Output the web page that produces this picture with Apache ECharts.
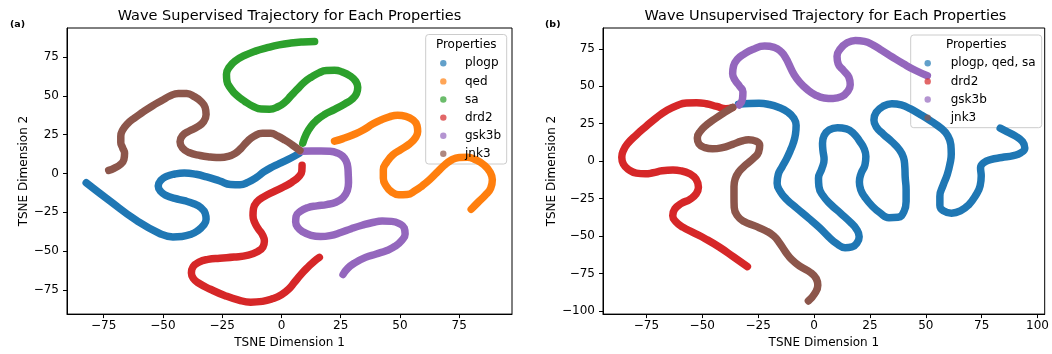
<!DOCTYPE html>
<html>
<head>
<meta charset="utf-8">
<title>Wave Trajectory</title>
<script src="https://cdn.jsdelivr.net/npm/echarts@6/dist/echarts.min.js"></script>
<style>
  html, body { margin: 0; padding: 0; background: #fff; }
  #main { width: 1052px; height: 354px; }
</style>
</head>
<body>
<div id="main"></div>
<script>
// panel (a): supervised trajectories
var namesA = ['plogp', 'qed', 'sa', 'drd2', 'gsk3b', 'jnk3'];
var supPlogp = [[-82.4,-5.9],[-72.5,-17.5],[-61.2,-30.2],[-51.4,-38.6],[-45.8,-40.8],[-42,-40.5],[-38.5,-39.3],[-35.5,-37],[-33,-33.5],[-31.8,-29.5],[-32.2,-25.5],[-34,-22],[-37,-19.5],[-41,-17.5],[-45,-16],[-48.5,-14.2],[-51,-11.5],[-52,-8],[-51,-4.5],[-48.5,-1.8],[-45,-0.3],[-41,0.3],[-36,-0.5],[-31.5,-2.2],[-26,-4.8],[-21.5,-7],[-17.5,-7.2],[-14,-5.5],[-10.5,-2.5],[-7.5,1],[-3.5,4.5],[0,7],[4,10],[7.5,13]];
var supQed = [[22.4,20.8],[26,22.5],[30.3,25],[34.5,28],[38.7,32],[42,34.5],[45.5,36.5],[49,37.5],[52.5,36.8],[55.5,34.5],[57.2,31],[57.5,27],[56.5,23],[54,19],[50.5,15.5],[47,12],[44.5,7.5],[43,2.5],[43,-3],[44.2,-8],[46.5,-11.8],[49.5,-13.7],[53,-13.5],[56.5,-11],[59.5,-7.8],[62.5,-4],[65.5,0.5],[68.5,5],[71.5,8.5],[75,10.4],[78.5,10.5],[82,8.8],[85.5,5.5],[88,1],[89,-4],[88.3,-9.5],[86,-14],[83,-18.5],[80.1,-23]];
var supSa = [[9,19.5],[10.5,25.5],[12.5,30.5],[15,34.5],[18,37.8],[22.5,41.3],[26.7,44.8],[29.8,47.8],[31.7,51.5],[32.2,55.5],[31.3,59.5],[29,62.8],[25.8,65.3],[22.4,66.5],[19,66.3],[15.8,64.8],[12.5,62],[9.6,58.8],[6.5,54],[4,50],[1.5,46],[-1.5,43],[-5,41.4],[-8.5,41.5],[-12,43.3],[-15.5,46.5],[-19,50.5],[-21.5,55],[-23,59.5],[-23.2,64],[-22,68.5],[-19.5,72.5],[-15.5,76],[-11,78.8],[-6,81],[-1,82.8],[4,84],[9,84.7],[14,85]];
var supDrd2 = [[8.7,5.3],[8.6,1.5],[7.3,-2],[4.5,-5.5],[1,-8.5],[-3,-11.5],[-7.5,-15],[-10.5,-18.5],[-11.8,-22.5],[-12,-27],[-11.3,-31.5],[-9.8,-35.5],[-8,-39.5],[-7.2,-43.5],[-7.8,-47.3],[-10.2,-50.3],[-14,-52.5],[-20,-53.8],[-26,-54.5],[-31,-55.3],[-34.8,-57],[-37.3,-60],[-38,-64],[-37.2,-67.5],[-35,-70.5],[-30,-74.5],[-24,-78.5],[-18,-81.5],[-13,-82.8],[-8,-82.3],[-3.5,-80.5],[0,-78],[3,-74.5],[5.5,-70],[8.5,-64.5],[11.5,-59.8],[13.8,-56.5],[16,-54]];
var supGsk3b = [[8.2,14.3],[12.5,14.5],[16.7,14.5],[20.5,14.3],[23.5,13.3],[25.8,11.2],[27.3,8],[28,4],[28.2,-1],[28.3,-6],[27.8,-11],[26,-15.5],[23,-18.5],[19,-20],[15,-20.8],[11,-22],[8,-24.3],[6.2,-27.5],[6,-31],[6.8,-34.5],[9,-37.5],[12.5,-39.8],[16.5,-40.6],[20.5,-40],[25,-38],[29.5,-35.5],[34,-33.3],[38.5,-31.5],[42.5,-30.6],[46.5,-30.8],[49.8,-32.3],[51.8,-35],[52.2,-39],[50.8,-43],[48,-46.8],[44.5,-49.5],[40,-51.8],[35.5,-54],[31,-57.5],[28,-61],[26,-65]];
var supJnk3 = [[-72.9,2],[-70.5,3.5],[-68,5.8],[-66.5,9],[-66.2,13],[-67,16.5],[-67.8,20],[-67.8,24],[-67,28],[-65,32],[-62,35.8],[-58.5,39.5],[-54.5,43.5],[-50.5,47],[-47,50],[-43.5,51.6],[-40,51.5],[-36.8,49.5],[-34,46.5],[-32.2,42.5],[-31.8,38],[-32.8,33.5],[-35.5,30],[-39,27.3],[-41.8,24.3],[-42.8,20.5],[-41.8,16.5],[-39,13.5],[-34.3,11.6],[-30,10.7],[-25.8,10.3],[-22.5,11],[-19.5,13],[-17,16.3],[-14.5,20.5],[-11.6,24],[-8,26],[-4.5,26],[-1.7,24.2],[1.5,21.5],[4.5,18.5],[7.8,14.8]];

// panel (b): unsupervised trajectories
var namesB = ['plogp, qed, sa', 'drd2', 'gsk3b', 'jnk3'];
var unsupMix = [[-33.8,38],[-29,38.5],[-24.6,38.6],[-20,37.8],[-15.7,35.8],[-11.8,32.8],[-9.1,28.8],[-8,24],[-8.3,17.9],[-9.3,12],[-10.6,7],[-12.3,1.5],[-14.3,-3.9],[-16,-9],[-16.5,-14.8],[-15,-20.5],[-12.3,-25.5],[-7.7,-31.5],[-2.5,-38],[2.5,-44.5],[6.5,-50.5],[10,-55],[13.9,-57.8],[17,-57.3],[19.3,-54.5],[20.2,-50.5],[19,-45.5],[16,-40.5],[12,-35],[7.5,-29],[4,-23],[2.2,-17],[2,-11.5],[3.5,-5],[4.5,1],[4,7],[3.8,12],[4.5,17],[6.7,20.8],[10.5,22.3],[14.5,21.5],[17.7,18.5],[20.3,13.5],[22.5,8],[23.2,3],[22.8,-2.5],[21,-8.5],[20.3,-14],[21,-19.5],[22.7,-24],[26,-30],[29.5,-34.5],[33.5,-37.8],[37.5,-37.5],[40.3,-33.5],[41.2,-27],[41.2,-19],[40.8,-11],[40.6,-3.5],[40,2.5],[38,8],[34.8,13],[31,18],[28,22.5],[26.8,27.5],[27.8,32.5],[30.8,36.5],[34.8,38.3],[39,37.5],[43,35],[47.7,31],[52.5,26.5],[56.8,22],[59.8,17],[61.2,11],[61.4,4.8],[60.8,-2],[59.6,-9],[57.8,-16],[56.3,-23.6],[56.3,-29.5],[58,-33.3],[61.5,-34.8],[65.5,-33.3],[69.3,-29],[72.3,-23],[74.3,-16.5],[74.8,-10],[74.5,-4.5],[76,-1],[79,1],[84,2.4],[89.2,3.7],[92.5,5.5],[94.3,8.7],[93.3,13],[90,16.8],[86.5,19.5],[83.3,22]];
var unsupDrd2 = [[-29.8,-70.5],[-36,-64],[-42.4,-57.4],[-48.5,-52],[-54.2,-47.6],[-58.5,-44.3],[-61.8,-40.5],[-63.2,-36.5],[-62.3,-32],[-59.3,-28.3],[-55.5,-25.5],[-52.8,-22],[-51.7,-17.5],[-52.8,-12],[-55.6,-8.5],[-59.5,-6.5],[-63.1,-6],[-68,-6.5],[-72,-7.8],[-75.5,-8.5],[-79.5,-8],[-82.8,-5.8],[-85.3,-2],[-86,2.6],[-85.3,7],[-83.5,11.5],[-79.5,17.5],[-74.9,23.5],[-70.5,29],[-65.9,33.8],[-61.5,37],[-57.1,38.8],[-52.5,39],[-48.2,38.3],[-43.5,36.5],[-39.4,35],[-36.4,35.8]];
var unsupGsk3b = [[-33.5,37.5],[-32,41.5],[-31.8,46.3],[-33.3,50],[-35.3,54],[-36.4,58.5],[-36,63.5],[-34.3,68],[-31.3,71.5],[-27.5,74.5],[-22.1,76.8],[-17.8,76],[-14.7,73],[-12.5,68.5],[-11,64],[-9,58],[-6.3,52.5],[-3,47.8],[0.5,44.3],[4.5,42.2],[8.5,41.8],[12.3,43],[15,46.5],[16.2,51],[15.6,56],[13.2,60.5],[10.8,65],[10.3,70],[11.8,75],[14.8,79],[18.5,80.6],[22.5,80],[26.5,77.5],[30.5,73.8],[35,69.5],[40,65],[45.5,60.5],[50.7,57]];
var unsupJnk3 = [[-36.4,35.8],[-40,32.5],[-43.8,28.8],[-47.8,24.5],[-50.8,20],[-52.2,15.5],[-51.5,11.5],[-48.8,9],[-45.4,8.2],[-41,9],[-36.4,11.2],[-32.5,13.3],[-29.3,14.3],[-26,13.3],[-24.3,10.5],[-24.8,6],[-27,2],[-30.5,-2.5],[-33.5,-7],[-35.3,-12],[-35.8,-17],[-35.8,-24],[-35.7,-31],[-34.3,-36.5],[-31.5,-40.2],[-26.5,-43.3],[-21.6,-46.5],[-18,-50],[-15.5,-54.5],[-12.8,-60.5],[-9.8,-66],[-6,-70.5],[-1.5,-74.5],[1,-78.5],[1.7,-83],[0.3,-88.5],[-2.5,-93.4]];

// tick labels
var xTicksA = [-75, -50, -25, 0, 25, 50, 75];
var yTicksA = [-75, -50, -25, 0, 25, 50, 75];
var xTicksB = [-75, -50, -25, 0, 25, 50, 75, 100];
var yTicksB = [-100, -75, -50, -25, 0, 25, 50, 75];

var colorMap = {
    'plogp': '#1f77b4', 'qed': '#ff7f0e', 'sa': '#2ca02c',
    'drd2': '#d62728', 'gsk3b': '#9467bd', 'jnk3': '#8c564b',
    'plogp, qed, sa': '#1f77b4'
};
var font = 'DejaVu Sans';

function showCharts(){
    var dom = document.getElementById('main');
    var myChart = echarts.init(dom, null, {renderer: 'canvas'});

    function minus(v){
        return String(v).replace('-', '\u2212');
    }

    function makeX(idx, min, max, ticks, gap){
        return {
            type: 'value', gridIndex: idx, min: min, max: max,
            name: 'TSNE Dimension 1', nameLocation: 'middle', nameGap: gap,
            nameTextStyle: {color: '#000', fontSize: 12, fontFamily: font},
            axisLine: {show: true, onZero: false, lineStyle: {color: '#000', width: 1}},
            axisTick: {show: true, length: 4, lineStyle: {color: '#000'}, customValues: ticks},
            axisLabel: {color: '#000', fontSize: 12, fontFamily: font, margin: 6,
                customValues: ticks, formatter: minus},
            splitLine: {show: false}
        };
    }
    function makeY(idx, min, max, ticks, gap){
        return {
            type: 'value', gridIndex: idx, min: min, max: max,
            name: 'TSNE Dimension 2', nameLocation: 'middle', nameGap: gap,
            nameTextStyle: {color: '#000', fontSize: 12, fontFamily: font},
            axisLine: {show: true, onZero: false, lineStyle: {color: '#000', width: 1}},
            axisTick: {show: true, length: 4, lineStyle: {color: '#000'}, customValues: ticks},
            axisLabel: {color: '#000', fontSize: 12, fontFamily: font, margin: 8,
                customValues: ticks, formatter: minus},
            splitLine: {show: false}
        };
    }
    function makeLine(name, data, idx){
        return {
            name: name, type: 'line', data: data,
            xAxisIndex: idx, yAxisIndex: idx,
            smooth: true, symbol: 'none', silent: true,
            color: colorMap[name],
            lineStyle: {color: colorMap[name], width: 7.5, cap: 'round', join: 'round'},
            emphasis: {disabled: true}
        };
    }
    // legend box drawn by hand (matplotlib style: title, dot, label)
    function makeLegend(names, box, dotX, textX){
        var items = [
            {type: 'rect', z: 3, shape: {x: box[0], y: box[1], width: box[2], height: box[3], r: 3},
                style: {fill: 'rgba(255,255,255,0.8)', stroke: '#cccccc', lineWidth: 1}},
            {type: 'text', z: 4, x: box[0] + box[2] / 2, y: 45,
                style: {text: 'Properties', fill: '#000', font: '12px "DejaVu Sans"',
                    textAlign: 'center', textVerticalAlign: 'middle'}}
        ];
        names.forEach(function (n, i) {
            var y = 63.3 + i * 18.1;
            items.push({type: 'circle', z: 4, shape: {cx: dotX, cy: y, r: 3.2},
                style: {fill: colorMap[n], opacity: 0.7}});
            items.push({type: 'text', z: 4, x: textX, y: y,
                style: {text: n, fill: '#000', font: '12px "DejaVu Sans"',
                    textAlign: 'left', textVerticalAlign: 'middle'}});
        });
        return items;
    }

    option = {
        animation: false,
        backgroundColor: '#fff',
        title: [
            {text: 'Wave Supervised Trajectory for Each Properties', left: 289.5, top: 9, padding: 0, textAlign: 'center',
                textStyle: {color: '#000', fontSize: 14.5, fontWeight: 'normal', fontFamily: font}},
            {text: 'Wave Unsupervised Trajectory for Each Properties', left: 825.5, top: 9, padding: 0, textAlign: 'center',
                textStyle: {color: '#000', fontSize: 14.5, fontWeight: 'normal', fontFamily: font}},
            {text: '(a)', left: 10, top: 20, padding: 0,
                textStyle: {color: '#000', fontSize: 9.5, fontWeight: 'bold', fontFamily: font}},
            {text: '(b)', left: 545, top: 20, padding: 0,
                textStyle: {color: '#000', fontSize: 9.5, fontWeight: 'bold', fontFamily: font}}
        ],
        graphic: makeLegend(namesA, [425.7, 34.5, 81, 129.5], 443.3, 465)
            .concat(makeLegend(namesB, [910.7, 35, 131, 92.7], 927.7, 950.7)),
        grid: [
            {left: 67, top: 28, width: 445, height: 292, show: true, borderColor: '#000', borderWidth: 1, backgroundColor: 'transparent'},
            {left: 603, top: 28, width: 445, height: 292, show: true, borderColor: '#000', borderWidth: 1, backgroundColor: 'transparent'}
        ],
        xAxis: [
            makeX(0, -90.5, 97.3, xTicksA, 20),
            makeX(1, -94.4, 103.2, xTicksB, 20)
        ],
        yAxis: [
            makeY(0, -90.5, 93.7, yTicksA, 33),
            makeY(1, -102.2, 88.9, yTicksB, 44)
        ],
        series: [
            makeLine('plogp', supPlogp, 0),
            makeLine('qed', supQed, 0),
            makeLine('sa', supSa, 0),
            makeLine('drd2', supDrd2, 0),
            makeLine('gsk3b', supGsk3b, 0),
            makeLine('jnk3', supJnk3, 0),
            makeLine('plogp, qed, sa', unsupMix, 1),
            makeLine('drd2', unsupDrd2, 1),
            makeLine('gsk3b', unsupGsk3b, 1),
            makeLine('jnk3', unsupJnk3, 1)
        ]
    };

    if (option && typeof option === "object") {
        myChart.setOption(option, true);
    }

    window.addEventListener("resize", function () {
        myChart.resize();
    })
}
showCharts();
</script>
</body>
</html>
